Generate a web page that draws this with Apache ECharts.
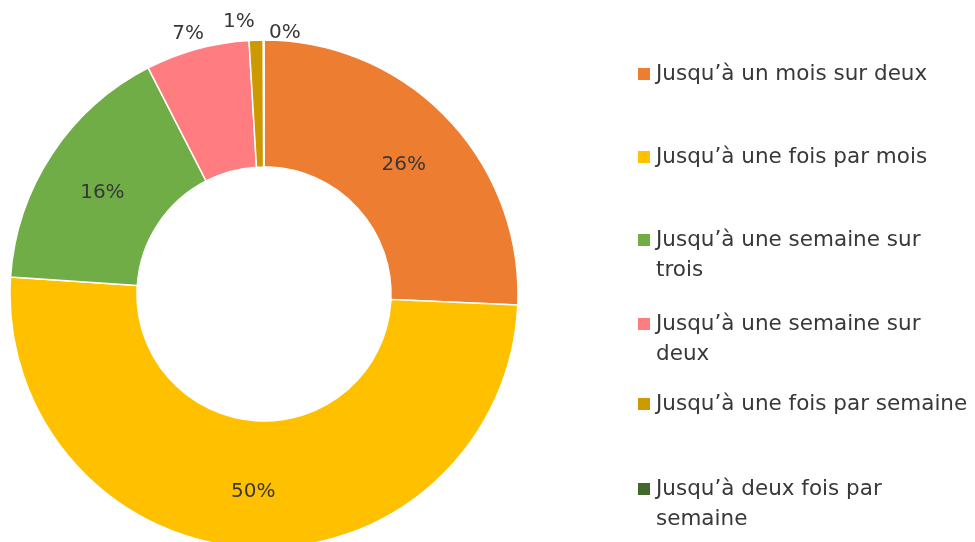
<!DOCTYPE html>
<html lang="fr">
<head>
<meta charset="UTF-8">
<title>Fréquence</title>
<script src="https://cdn.jsdelivr.net/npm/echarts@6/dist/echarts.min.js"></script>
<style>
  html, body { margin: 0; padding: 0; background: #fff; }
  #chart { width: 975px; height: 542px; }
</style>
</head>
<body>
<div id="chart"></div>
<script>
// categories (legend order) and shares in %
var categories = [
  'Jusqu’à un mois sur deux',
  'Jusqu’à une fois par mois',
  'Jusqu’à une semaine sur trois',
  'Jusqu’à une semaine sur deux',
  'Jusqu’à une fois par semaine',
  'Jusqu’à deux fois par semaine'
];
// how the legend text wraps
var legendLines = [
  ['Jusqu’à un mois sur deux'],
  ['Jusqu’à une fois par mois'],
  ['Jusqu’à une semaine sur', 'trois'],
  ['Jusqu’à une semaine sur', 'deux'],
  ['Jusqu’à une fois par semaine'],
  ['Jusqu’à deux fois par', 'semaine']
];
var values = [25.7, 50.4, 16.4, 6.6, 0.9, 0.04];
var colors = ['#ED7D31', '#FFC000', '#70AD47', '#FF7C80', '#CC9900', '#43682B'];
var outsideLabels = [false, false, false, true, true, true];
var legendCenters = [69, 152, 235, 319, 399, 484];

var textColor = '#383838';
var fontFamily = '"DejaVu Sans", sans-serif';
var lineH = 30;

var dom = document.getElementById('chart');
var myChart = echarts.init(dom);

// tweaks for the small slices placed outside the ring
var outsideTweak = [null, null, null,
  { len: 16, dist: -11 },
  { len: 18, dist: 1 },
  { len: 7, dist: -37 }];

var pieData = categories.map(function (name, i) {
  var item = { name: name, value: values[i], itemStyle: { color: colors[i] } };
  if (outsideLabels[i]) {
    item.label = { position: 'outside', distanceToLabelLine: outsideTweak[i].dist };
    item.labelLine = { show: false, length: outsideTweak[i].len, length2: 0 };
  }
  return item;
});

// one legend per entry so the spacing follows the original;
// a blank first line keeps the square beside the first text line
var legends = categories.map(function (name, i) {
  var lines = legendLines[i];
  var twoLines = lines.length > 1;
  return {
    orient: 'vertical',
    left: 631,
    top: legendCenters[i] - (twoLines ? lineH * 1.5 : lineH / 2),
    itemWidth: 14,
    itemHeight: 14,
    icon: 'rect',
    selectedMode: false,
    data: [name],
    formatter: function () {
      return twoLines ? '\u00a0\n' + lines.join('\n') : lines[0];
    },
    textStyle: {
      color: textColor,
      fontFamily: fontFamily,
      fontSize: 21.5,
      lineHeight: lineH
    }
  };
});

var option = {
  animation: false,
  legend: legends,
  series: [{
    type: 'pie',
    center: [264, 294],
    radius: [127, 254],
    startAngle: 90,
    clockwise: true,
    avoidLabelOverlap: false,
    itemStyle: { borderColor: '#fff', borderWidth: 1.5 },
    label: {
      show: true,
      position: 'inside',
      color: textColor,
      fontFamily: fontFamily,
      fontSize: 20,
      formatter: function (p) { return Math.round(p.percent) + '%'; }
    },
    labelLine: { show: false },
    // inside labels sit a little lower in the original
    labelLayout: function (params) {
      return outsideLabels[params.dataIndex] ? {} : { dy: 5 };
    },
    data: pieData
  }]
};
myChart.setOption(option, true);
</script>
</body>
</html>
